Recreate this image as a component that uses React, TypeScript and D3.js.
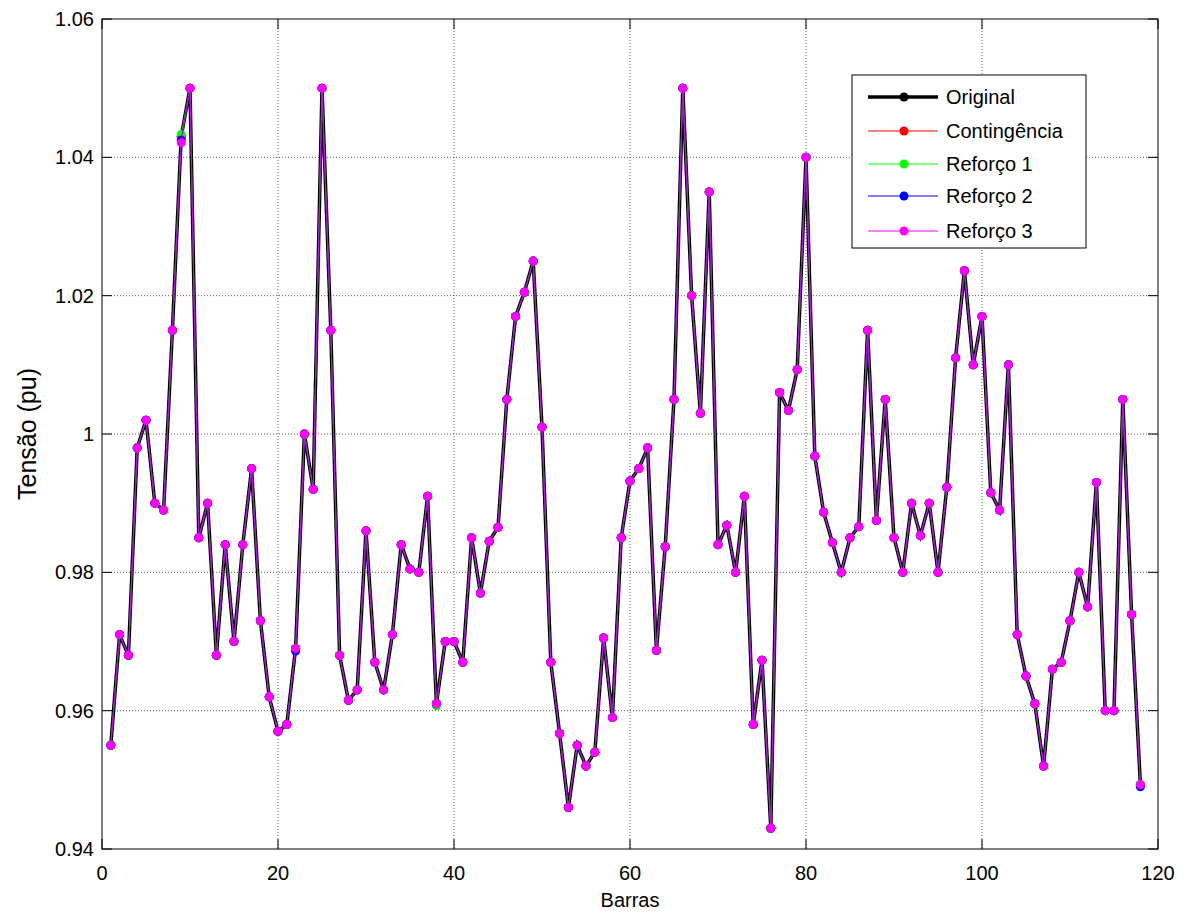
import React from "react";
import * as d3 from "d3";

const buses: number[] = d3.range(1, 119);
const original: number[] = [
  0.955, 0.971, 0.968, 0.998, 1.002, 0.990, 0.989, 1.015, 1.043, 1.050,
  0.985, 0.990, 0.968, 0.984, 0.970, 0.984, 0.995, 0.973, 0.962, 0.957,
  0.958, 0.969, 1.000, 0.992, 1.050, 1.015, 0.968, 0.9615, 0.963, 0.986,
  0.967, 0.963, 0.971, 0.984, 0.9805, 0.980, 0.991, 0.961, 0.970, 0.970,
  0.967, 0.985, 0.977, 0.9845, 0.9865, 1.005, 1.017, 1.0205, 1.025, 1.001,
  0.967, 0.9567, 0.946, 0.955, 0.952, 0.954, 0.9705, 0.959, 0.985, 0.9932,
  0.995, 0.998, 0.9687, 0.9837, 1.005, 1.050, 1.020, 1.003, 1.035, 0.984,
  0.9868, 0.980, 0.991, 0.958, 0.9673, 0.943, 1.006, 1.0034, 1.0093, 1.040,
  0.9968, 0.9887, 0.9843, 0.980, 0.985, 0.9866, 1.015, 0.9875, 1.005, 0.985,
  0.980, 0.990, 0.9853, 0.990, 0.980, 0.9923, 1.011, 1.0236, 1.010, 1.017,
  0.9915, 0.989, 1.010, 0.971, 0.965, 0.961, 0.952, 0.966, 0.967, 0.973,
  0.980, 0.975, 0.993, 0.960, 0.960, 1.005, 0.9739, 0.9493,
];
const contingencia: number[] = [...original];
const reforco1: number[] = original.map((v, i) => (i === 8 ? 1.0433 : i === 37 ? 0.9607 : v));
const reforco2: number[] = original.map((v, i) => (i === 8 ? 1.0425 : i === 21 ? 0.9686 : i === 117 ? 0.949 : v));
const reforco3: number[] = original.map((v, i) => (i === 8 ? 1.0421 : v));

const seriesNames = ["Original", "Contingência", "Reforço 1", "Reforço 2", "Reforço 3"];
const seriesValues = [original, contingencia, reforco1, reforco2, reforco3];
const seriesColors = ["#000000", "#ff0000", "#00ff00", "#0000ff", "#ff00ff"];
const seriesWidths = [3.5, 0.8, 0.8, 0.8, 0.8];

const xTicks = [0, 20, 40, 60, 80, 100, 120];
const yTicks = [0.94, 0.96, 0.98, 1.0, 1.02, 1.04, 1.06];
const yTickLabels = ["0.94", "0.96", "0.98", "1", "1.02", "1.04", "1.06"];

export default function App() {
  const W = 1189, H = 915;
  const left = 102, right = 1158, top = 19, bottom = 849;
  const x = d3.scaleLinear().domain([0, 120]).range([left, right]);
  const y = d3.scaleLinear().domain([0.94, 1.06]).range([bottom, top]);
  const font = "'Liberation Sans', Arial, sans-serif";
  const lineGen = (vals: number[]) =>
    d3.line<number>().x((_, i) => x(buses[i])).y((v) => y(v))(vals) || "";

  const legX = 852, legY = 75, legW = 234, legH = 173;
  const legRows = [97, 131, 164, 196, 231];

  return (
    <svg width={W} height={H} style={{ position: "absolute", left: 0, top: 0, background: "#fff" }}>
      <rect x={0} y={0} width={W} height={H} fill="#fff" />
      {xTicks.slice(1, -1).map((t) => (
        <line key={"gx" + t} x1={x(t)} x2={x(t)} y1={top} y2={bottom} stroke="#333" strokeWidth={0.8} strokeDasharray="1,2" />
      ))}
      {yTicks.slice(1, -1).map((t) => (
        <line key={"gy" + t} x1={left} x2={right} y1={y(t)} y2={y(t)} stroke="#333" strokeWidth={0.8} strokeDasharray="1,2" />
      ))}
      {xTicks.map((t) => (
        <g key={"tx" + t}>
          <line x1={x(t)} x2={x(t)} y1={bottom} y2={bottom - 10} stroke="#000" />
          <line x1={x(t)} x2={x(t)} y1={top} y2={top + 10} stroke="#000" />
          <text x={x(t)} y={bottom + 31} textAnchor="middle" fontSize={20} fontFamily={font}>{t}</text>
        </g>
      ))}
      {yTicks.map((t, i) => (
        <g key={"ty" + t}>
          <line x1={left} x2={left + 10} y1={y(t)} y2={y(t)} stroke="#000" />
          <line x1={right} x2={right - 10} y1={y(t)} y2={y(t)} stroke="#000" />
          <text x={left - 8} y={y(t) + 7} textAnchor="end" fontSize={20} fontFamily={font}>{yTickLabels[i]}</text>
        </g>
      ))}
      {seriesValues.map((vals, si) => (
        <g key={"s" + si}>
          <path d={lineGen(vals)} fill="none" stroke={seriesColors[si]} strokeWidth={seriesWidths[si]} />
          {vals.map((v, i) => (
            <circle key={i} cx={x(buses[i])} cy={y(v)} r={4.5} fill={seriesColors[si]} />
          ))}
        </g>
      ))}
      <rect x={left} y={top} width={right - left} height={bottom - top} fill="none" stroke="#000" strokeWidth={1} />
      <text x={630} y={907} textAnchor="middle" fontSize={20} fontFamily={font}>Barras</text>
      <text transform={`translate(36,${(top + bottom) / 2}) rotate(-90)`} textAnchor="middle" fontSize={25} fontFamily={font}>Tensão (pu)</text>
      <rect x={legX} y={legY} width={legW} height={legH} fill="#fff" stroke="#000" strokeWidth={1} />
      {seriesNames.map((n, i) => (
        <g key={"l" + i}>
          <line x1={868} x2={938} y1={legRows[i]} y2={legRows[i]} stroke={seriesColors[i]} strokeWidth={i === 0 ? 3.5 : 1} />
          <circle cx={904} cy={legRows[i]} r={4.5} fill={seriesColors[i]} />
          <text x={946} y={legRows[i] + 7} fontSize={20} fontFamily={font}>{n}</text>
        </g>
      ))}
    </svg>
  );
}
